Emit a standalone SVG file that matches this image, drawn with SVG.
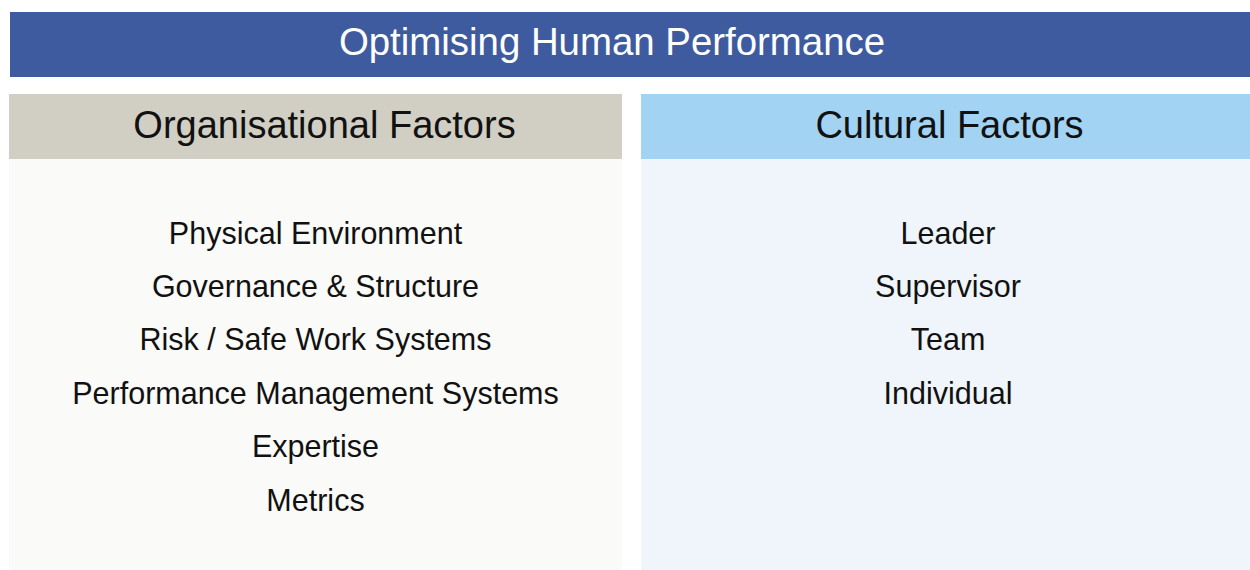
<svg xmlns="http://www.w3.org/2000/svg" width="1250" height="570" viewBox="0 0 1250 570">
<style>
text{font-family:"Liberation Sans",Arial,sans-serif;text-anchor:middle}
.title{font-size:38.4px;fill:#ffffff}
.head{font-size:38px;fill:#111111}
.item{font-size:30.5px;fill:#111111}
</style>
<rect width="1250" height="570" fill="#ffffff"/>
<g id="title">
<rect x="10" y="12" width="1240" height="65" fill="#3F5BA0"/>
<text class="title" x="612" y="55">Optimising Human Performance</text>
</g>
<g id="organisational">
<rect x="9" y="94" width="613" height="65" fill="#D1CFC3"/>
<rect x="9" y="159" width="613" height="411" fill="#FAFAF8"/>
<text class="head" x="324.5" y="138">Organisational Factors</text>
<text class="item" x="315.5" y="243.5">Physical Environment</text>
<text class="item" x="315.5" y="296.9">Governance &amp; Structure</text>
<text class="item" x="315.5" y="350.3">Risk / Safe Work Systems</text>
<text class="item" x="315.5" y="403.7">Performance Management Systems</text>
<text class="item" x="315.5" y="457.1">Expertise</text>
<text class="item" x="315.5" y="510.5">Metrics</text>
</g>
<g id="cultural">
<rect x="641" y="94" width="609" height="65" fill="#A2D3F2"/>
<rect x="641" y="159" width="609" height="411" fill="#EFF5FA"/>
<text class="head" x="949.5" y="138">Cultural Factors</text>
<text class="item" x="948" y="243.5">Leader</text>
<text class="item" x="948" y="296.9">Supervisor</text>
<text class="item" x="948" y="350.3">Team</text>
<text class="item" x="948" y="403.7">Individual</text>
</g>
<g id="connectors"></g>
</svg>
